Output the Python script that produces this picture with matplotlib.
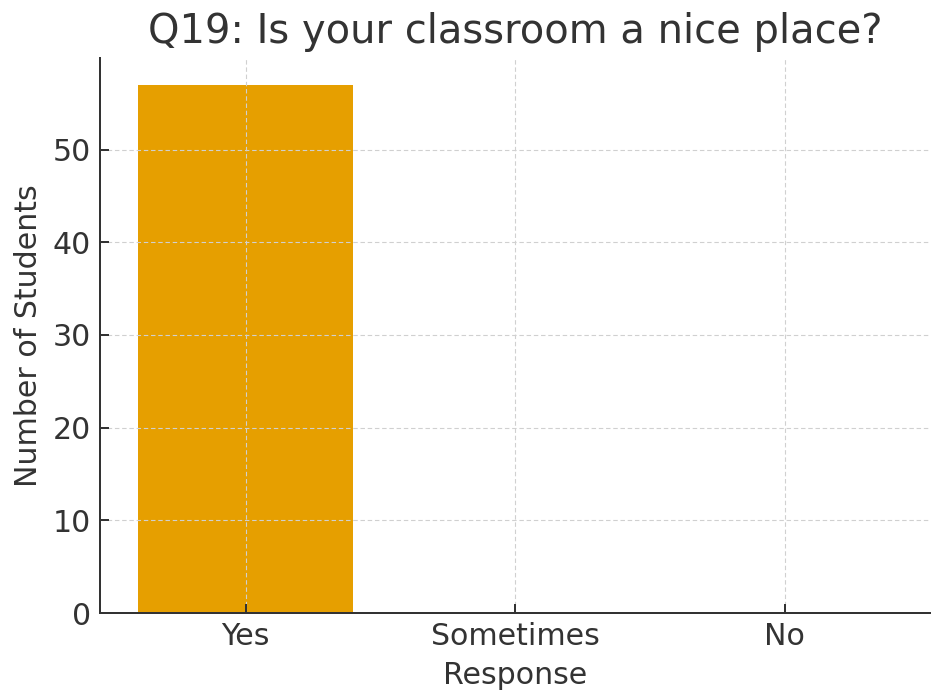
import matplotlib
matplotlib.use("Agg")
import matplotlib.pyplot as plt

categories = ["Yes", "Sometimes", "No"]
counts = [57, 0, 0]

S = 1.8
TXT = "#333333"
fig = plt.figure(figsize=(9.31, 6.94), dpi=100)
ax = fig.add_axes([0.1074, 0.1167, 0.8916, 0.7993])
ax.bar(categories, counts, color="#E69F00", width=0.8, zorder=1)
ax.set_axisbelow(False)
ax.grid(True, linestyle="--", color="#d0d0d0", linewidth=0.8, zorder=2,
        dashes=(4, 2.5))

ax.set_title("Q19: Is your classroom a nice place?", fontsize=16 * S, color=TXT, pad=6 * S)
ax.set_xlabel("Response", fontsize=12 * S, color=TXT, labelpad=4 * S)
ax.set_ylabel("Number of Students", fontsize=12 * S, color=TXT, labelpad=4 * S)
ax.tick_params(axis="both", labelsize=12 * S, colors=TXT, direction="in",
               length=3.5 * S, width=0.8 * S, pad=3.5 * S)
for s in ["top", "right"]:
    ax.spines[s].set_visible(False)
for s in ["left", "bottom"]:
    ax.spines[s].set_color(TXT)
    ax.spines[s].set_linewidth(0.8 * S)
    ax.spines[s].set_zorder(5)

fig.savefig("out.png", dpi=100)
